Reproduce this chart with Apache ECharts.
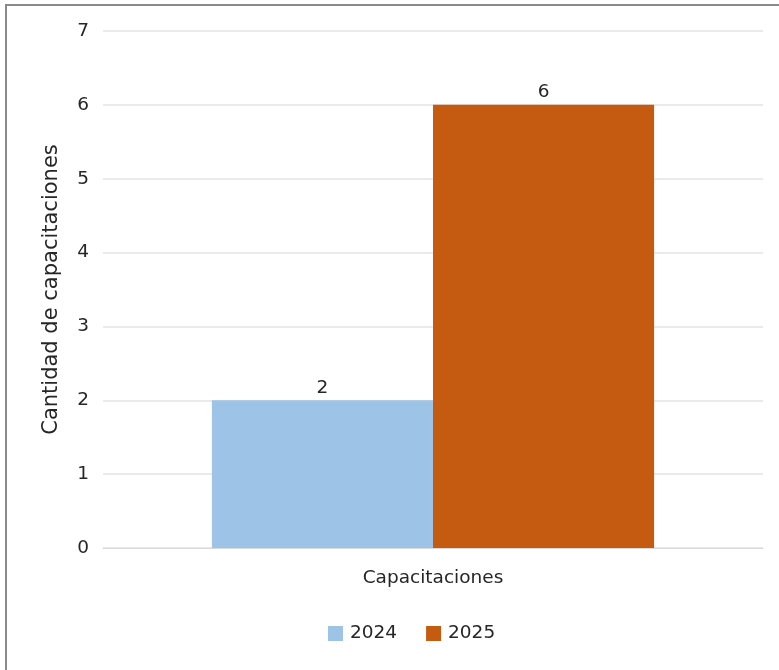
<!DOCTYPE html>
<html>
<head>
<meta charset="utf-8">
<script src="https://cdn.jsdelivr.net/npm/echarts@6/dist/echarts.min.js"></script>
<style>
  html, body { margin: 0; padding: 0; background: #fff; }
  #chart { width: 779px; height: 670px; }
</style>
</head>
<body>
<div id="chart"></div>
<script>
// Data
const categories = ['Capacitaciones'];
const seriesNames = ['2024', '2025'];
const values2024 = [2];
const values2025 = [6];
const yTicks = [0, 1, 2, 3, 4, 5, 6, 7];

const colors = ['#9DC3E6', '#C55A11'];
const font = 'DejaVu Sans';
const textColor = '#262626';
const fs = 18.5;

const chart = echarts.init(document.getElementById('chart'));
chart.setOption({
  animation: false,
  graphic: [
    // frame lines along the top and left edges
    { type: 'line', shape: { x1: 5, y1: 5, x2: 779, y2: 5 }, style: { stroke: '#8a8a8a', lineWidth: 2 } },
    { type: 'line', shape: { x1: 6, y1: 5, x2: 6, y2: 670 }, style: { stroke: '#8a8a8a', lineWidth: 2 } }
  ],
  grid: { left: 103, right: 16, top: 31, bottom: 122, containLabel: false },
  legend: {
    data: seriesNames,
    bottom: 22,
    left: 323,
    itemWidth: 15,
    itemHeight: 15,
    itemGap: 29,
    icon: 'rect',
    textStyle: { fontFamily: font, fontSize: fs, color: textColor, padding: [0, 0, 0, 2] }
  },
  xAxis: {
    type: 'category',
    data: categories,
    axisLine: { show: true, lineStyle: { color: '#d9d9d9' } },
    axisTick: { show: false },
    axisLabel: { fontFamily: font, fontSize: fs, color: textColor, margin: 21 }
  },
  yAxis: {
    type: 'value',
    min: 0,
    max: yTicks[yTicks.length - 1],
    interval: 1,
    name: 'Cantidad de capacitaciones',
    nameLocation: 'middle',
    nameGap: 41,
    nameRotate: 90,
    nameTextStyle: { fontFamily: font, fontSize: 21, color: textColor },
    axisLine: { show: false },
    axisTick: { show: false },
    axisLabel: { fontFamily: font, fontSize: fs, color: textColor, margin: 14 },
    splitLine: { lineStyle: { color: '#e3e3e3', width: 1.5 } }
  },
  series: [
    {
      name: seriesNames[0],
      type: 'bar',
      data: values2024,
      itemStyle: { color: colors[0] },
      barGap: '0%',
      barCategoryGap: '33%',
      label: { show: true, position: 'top', fontFamily: font, fontSize: fs, color: textColor, distance: 3 }
    },
    {
      name: seriesNames[1],
      type: 'bar',
      data: values2025,
      itemStyle: { color: colors[1] },
      barGap: '0%',
      barCategoryGap: '33%',
      label: { show: true, position: 'top', fontFamily: font, fontSize: fs, color: textColor, distance: 3 }
    }
  ]
});
</script>
</body>
</html>
